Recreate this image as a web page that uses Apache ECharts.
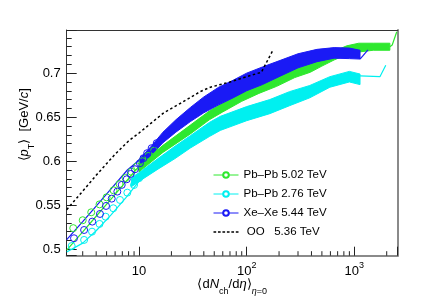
<!DOCTYPE html>
<html><head><meta charset="utf-8">
<script src="https://cdn.jsdelivr.net/npm/echarts@6/dist/echarts.min.js"></script>
<style>html,body{margin:0;padding:0;background:#fff}#c{width:442px;height:302px}</style>
</head><body><div id="c"></div>
<script>
// ---------- data ----------
const seriesNames = ['Pb–Pb 5.02 TeV', 'Pb–Pb 2.76 TeV', 'Xe–Xe 5.44 TeV', ' OO   5.36 TeV'];

// low-multiplicity open-circle markers
const pb502MarkN = [2.45, 3.0, 3.6, 4.3, 5.0, 5.8, 6.6, 7.5, 8.5, 9.6, 10.8, 12.2, 13.8];
const pb502MarkV = [0.524, 0.533, 0.542, 0.551, 0.559, 0.567, 0.574, 0.581, 0.588, 0.594, 0.600, 0.606, 0.612];
const pb276MarkN = [2.37, 3.09, 3.66, 4.30, 4.90, 5.77, 6.66, 7.79, 8.99, 10.0];
const pb276MarkV = [0.5037, 0.5106, 0.520, 0.5288, 0.537, 0.5466, 0.556, 0.5643, 0.573, 0.5807];
const xeMarkN = [2.49, 3.09, 3.68, 4.34, 4.94, 5.58, 6.29, 6.91, 7.69, 8.37, 9.18, 10.2, 11.0, 11.9, 13.1, 14.6];
const xeMarkV = [0.5125, 0.5219, 0.5314, 0.5401, 0.5492, 0.5575, 0.5655, 0.5731, 0.5795, 0.5856, 0.5909, 0.5977, 0.6034, 0.6091, 0.6148, 0.6205];

// thin solid lines at low multiplicity
const pb502LineN = [2.13, 3, 4, 5.5, 7, 9.3, 12];
const pb502LineV = [0.499, 0.5197, 0.5375, 0.557, 0.572, 0.590, 0.603];
const pb276LineN = [2.13, 3, 4, 5.5, 7.5, 10];
const pb276LineV = [0.497, 0.507, 0.521, 0.539, 0.558, 0.577];
const xeLineN = [2.13, 3, 4, 5.5, 7.8, 10, 13];
const xeLineV = [0.511, 0.5315, 0.549, 0.5686, 0.590, 0.601, 0.613];

// dense high-multiplicity bands: value and half width
const pb502BandN = [10, 16.7, 30, 45, 60, 90, 130, 190, 280, 390, 500, 650, 850, 1100, 1500, 2140];
const pb502BandV = [0.592, 0.614, 0.636, 0.652, 0.661, 0.673, 0.682, 0.690, 0.700, 0.706, 0.713, 0.720, 0.726, 0.729, 0.730, 0.730];
const pb502BandE = [0.004, 0.004, 0.005, 0.005, 0.005, 0.005, 0.005, 0.005, 0.005, 0.005, 0.005, 0.005, 0.005, 0.005, 0.004, 0.004];
const pb276BandN = [8.5, 10, 15, 21.6, 30, 45, 57, 70, 100, 164, 250, 386, 593, 900, 1130];
const pb276BandV = [0.576, 0.582, 0.597, 0.610, 0.622, 0.636, 0.643, 0.647, 0.654, 0.662, 0.671, 0.679, 0.690, 0.696, 0.693];
const pb276BandE = [0.005, 0.005, 0.006, 0.007, 0.007, 0.008, 0.008, 0.008, 0.008, 0.008, 0.008, 0.007, 0.006, 0.006, 0.006];
const xeBandN = [10, 13, 16.7, 22, 30, 40, 55, 75, 100, 140, 200, 300, 450, 650, 900, 1130];
const xeBandV = [0.598, 0.612, 0.627, 0.640, 0.653, 0.664, 0.674, 0.682, 0.690, 0.697, 0.705, 0.714, 0.720, 0.723, 0.7225, 0.721];
const xeBandE = [0.004, 0.005, 0.006, 0.007, 0.008, 0.009, 0.010, 0.010, 0.010, 0.010, 0.009, 0.008, 0.007, 0.006, 0.006, 0.005];

// end tails
const pb502TailN = [2140, 2250, 2480];
const pb502TailV = [0.730, 0.732, 0.747];
const pb276TailN = [1130, 1730, 1960];
const pb276TailV = [0.697, 0.696, 0.709];
const xeTailN = [1130, 1340];
const xeTailV = [0.716, 0.7265];

// OO prediction (dashed)
const ooN = [2.13, 3, 4, 6, 8, 10, 17, 25, 37, 46, 70, 100, 137, 177];
const ooV = [0.545, 0.566, 0.584, 0.608, 0.623, 0.632, 0.655, 0.6666, 0.679, 0.684, 0.690, 0.696, 0.701, 0.727];

// axes / ticks
const X_MIN = 2.13, X_MAX = 2530, Y_MIN = 0.4927, Y_MAX = 0.749;
const xMinorTicks = [3, 4, 5, 6, 7, 8, 9, 20, 30, 40, 50, 60, 70, 80, 90, 200, 300, 400, 500, 600, 700, 800, 900, 2000];

// ---------- chart ----------
const FONT = 'Liberation Sans, Arial, Helvetica, sans-serif';
const GREEN = '#2ee82e', CYAN = '#00f0f0', BLUE = '#1a1af5', BLACK = '#000';
const zip = (a, b) => a.map((v, i) => [v, b[i]]);

function band(N, V, E, color, z) {
  const data = N.map((n, i) => [n, V[i] - E[i], V[i] + E[i]]);
  return {
    type: 'custom', silent: true, z, data, encode: { x: 0, y: [1, 2] },
    renderItem(params, api) {
      if (params.dataIndex !== 0) return null;
      const up = data.map(d => api.coord([d[0], d[2]]));
      const lo = data.map(d => api.coord([d[0], d[1]])).reverse();
      return { type: 'polygon', shape: { points: up.concat(lo) }, style: { fill: color, stroke: color, lineWidth: 1 } };
    }
  };
}
function thin(N, V, color, z) {
  return { type: 'line', silent: true, z, data: zip(N, V), symbol: 'none', lineStyle: { color, width: 1.2 } };
}
function marks(name, N, V, color, z) {
  return { type: 'line', name, z, data: zip(N, V), symbol: 'circle', symbolSize: 7, showSymbol: true,
    itemStyle: { color: 'rgba(255,255,255,0)', borderColor: color, borderWidth: 1 },
    lineStyle: { color, width: 1, opacity: 0 }, color };
}

const supRich = {
  b: { fontSize: 13, lineHeight: 22, verticalAlign: 'middle', fontFamily: FONT, color: '#000' },
  sup: { fontSize: 9, lineHeight: 12, verticalAlign: 'top', fontFamily: FONT, color: '#000' }
};
const titleRich = {
  i: { fontSize: 13, lineHeight: 22, fontStyle: 'italic', fontFamily: FONT, color: '#000' },
  sub: { fontSize: 9, lineHeight: 12, verticalAlign: 'bottom', fontFamily: FONT, color: '#000' },
  subi: { fontSize: 9, lineHeight: 12, verticalAlign: 'bottom', fontStyle: 'italic', fontFamily: FONT, color: '#000' }
};

const dashIcon = 'path://M0,0h2.6v1.4h-2.6z M4.3,0h2.6v1.4h-2.6z M8.6,0h2.6v1.4h-2.6z M12.9,0h2.6v1.4h-2.6z M17.2,0h2.6v1.4h-2.6z M21.5,0h2.6v1.4h-2.6z';

const option = {
  animation: false,
  backgroundColor: '#fff',
  grid: { left: 66.7, right: 44.3, top: 30, bottom: 46.3, containLabel: false, outerBoundsMode: 'none' },
  legend: {
    orient: 'vertical', left: 213, top: 168, padding: 0, itemWidth: 25, itemHeight: 7, itemGap: 5, selectedMode: false,
    textStyle: { fontSize: 11.5, lineHeight: 14, color: '#000', fontFamily: FONT },
    lineStyle: { opacity: 1, width: 1 },
    data: [
      { name: seriesNames[0], itemStyle: { color: '#fff' } },
      { name: seriesNames[1], itemStyle: { color: '#fff' } },
      { name: seriesNames[2], itemStyle: { color: '#fff' } },
      { name: seriesNames[3], icon: dashIcon }
    ]
  },
  xAxis: [{
    type: 'log', logBase: 10, min: X_MIN, max: X_MAX, position: 'bottom',
    axisLine: { show: true, onZero: false, lineStyle: { color: '#8a8a8a', width: 2 } },
    axisTick: { show: true, inside: true, length: 9, lineStyle: { color: '#222', width: 1 } },
    splitLine: { show: false },
    axisLabel: {
      margin: 5, color: '#000', rich: supRich,
      formatter: v => {
        const l = Math.log10(v), r = Math.round(l);
        if (Math.abs(l - r) > 1e-6) return '';
        return r === 1 ? '{b|10}' : '{b|10}{sup|' + r + '}';
      }
    },
    name: '⟨d{i|N}{sub|ch}/d{i|η}⟩{subi|η}{sub|=0}', nameLocation: 'middle', nameGap: 18, nameMoveOverlap: false,
    nameTextStyle: { fontSize: 13, lineHeight: 22, color: '#000', fontFamily: FONT, rich: titleRich }
  }, {
    type: 'log', logBase: 10, min: X_MIN, max: X_MAX, position: 'top',
    axisLine: { show: true, onZero: false, lineStyle: { color: '#333', width: 1 } },
    axisTick: { show: false }, axisLabel: { show: false }, splitLine: { show: false }
  }],
  yAxis: [{
    type: 'value', min: Y_MIN, max: Y_MAX, splitNumber: 5, position: 'left',
    axisLine: { show: true, onZero: false, lineStyle: { color: '#333', width: 1 } },
    axisTick: { show: true, inside: true, length: 10, lineStyle: { color: '#222', width: 1 } },
    minorTick: { show: true, splitNumber: 5, length: 5, lineStyle: { color: '#222', width: 1 } },
    splitLine: { show: false },
    axisLabel: {
      margin: 6, color: '#000', fontSize: 13, fontFamily: FONT, inside: false,
      formatter: v => {
        const k = Math.round(v / 0.05);
        if (Math.abs(v - k * 0.05) > 1e-6) return '';
        return String(+(k * 0.05).toFixed(2));
      }
    },
    name: '⟨{i|p}{sub|T}⟩  [GeV/{i|c}]', nameLocation: 'middle', nameRotate: 90, nameGap: 31, nameMoveOverlap: false,
    nameTextStyle: { fontSize: 13, lineHeight: 22, color: '#000', fontFamily: FONT, rich: titleRich, padding: [0, 0, 0, 36] }
  }, {
    type: 'value', min: Y_MIN, max: Y_MAX, position: 'right',
    axisLine: { show: true, onZero: false, lineStyle: { color: '#8a8a8a', width: 2 } },
    axisTick: { show: false }, axisLabel: { show: false }, splitLine: { show: false }
  }],
  series: [
    band(pb276BandN, pb276BandV, pb276BandE, CYAN, 2),
    band(pb502BandN, pb502BandV, pb502BandE, GREEN, 3),
    band(xeBandN, xeBandV, xeBandE, BLUE, 4),
    thin(pb276LineN, pb276LineV, CYAN, 5),
    thin(pb502LineN, pb502LineV, GREEN, 5),
    thin(xeLineN, xeLineV, BLUE, 5),
    thin(pb276TailN, pb276TailV, CYAN, 5),
    thin(pb502TailN, pb502TailV, GREEN, 5),
    thin(xeTailN, xeTailV, BLUE, 5),
    marks(seriesNames[1], pb276MarkN, pb276MarkV, CYAN, 6),
    marks(seriesNames[0], pb502MarkN, pb502MarkV, GREEN, 7),
    marks(seriesNames[2], xeMarkN, xeMarkV, BLUE, 8),
    { type: 'line', name: seriesNames[3], z: 9, data: zip(ooN, ooV), symbol: 'none', color: BLACK,
      lineStyle: { color: BLACK, width: 1.5, type: [2.5, 2.5] } }
  ]
};

const chart = echarts.init(document.getElementById('c'), null, { renderer: 'canvas' });
chart.setOption(option);
try {
  // minor ticks of the log x axis: short segments whose ends come from the chart's own value <-> pixel conversion
  const G = { gridIndex: 0 };
  const minorData = [];
  xMinorTicks.forEach(v => {
    const p = chart.convertToPixel(G, [v, Y_MIN]);
    const q = chart.convertFromPixel(G, [p[0], p[1] - 4.5]);
    minorData.push([v, Y_MIN], [v, q[1]], ['-', '-']);
  });
  option.series.push({ type: 'line', silent: true, z: 30, clip: false, symbol: 'none', data: minorData,
    connectNulls: false, lineStyle: { color: '#222', width: 1 } });
  chart.setOption(option);
} catch (e) { /* keep the chart as drawn */ }
</script>
</body></html>
